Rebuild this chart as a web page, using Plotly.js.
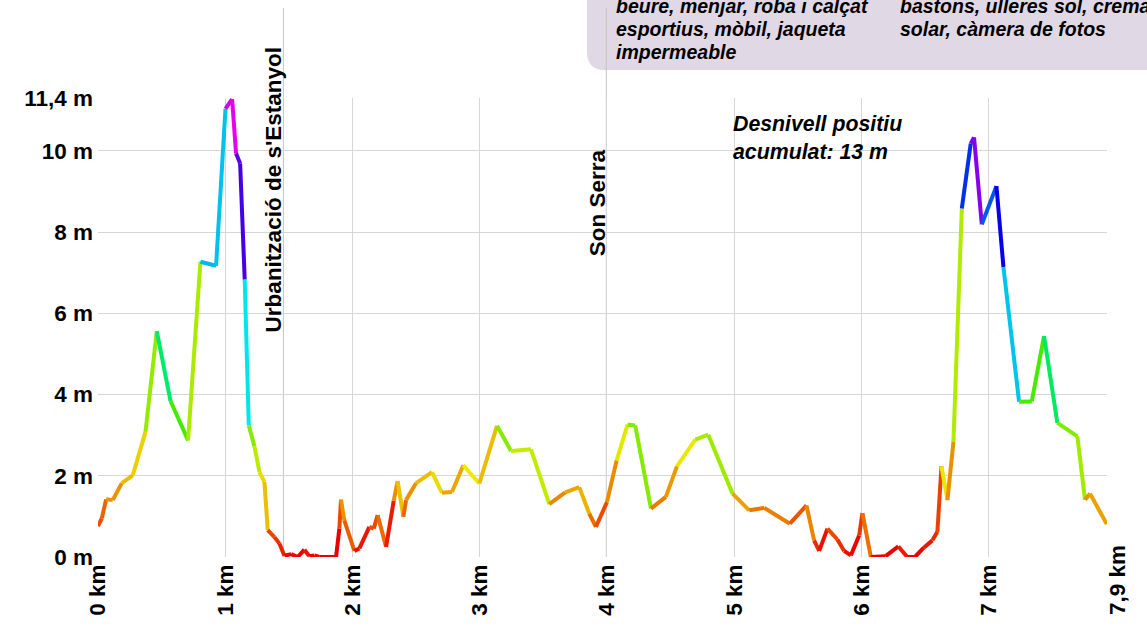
<!DOCTYPE html>
<html><head><meta charset="utf-8">
<script src="https://cdn.plot.ly/plotly-3.0.1.min.js"></script>
<style>html,body{margin:0;padding:0;background:#fff}#chart{width:1147px;height:627px}</style>
</head><body><div id="chart"></div>
<script>
// ---- data ----
const distanceKm = [0.00,0.03,0.064,0.116,0.187,0.273,0.373,0.462,0.570,0.708,0.805,0.928,1.002,1.054,1.085,1.117,1.153,1.185,1.229,1.269,1.308,1.334,1.387,1.426,1.465,1.518,1.57,1.622,1.661,1.70,1.74,1.871,1.897,1.91,1.936,2.015,2.054,2.133,2.167,2.198,2.264,2.324,2.355,2.40,2.421,2.50,2.625,2.704,2.782,2.871,2.997,3.136,3.246,3.403,3.547,3.672,3.782,3.861,3.913,4.00,4.076,4.162,4.222,4.346,4.463,4.55,4.694,4.796,4.987,5.118,5.236,5.438,5.568,5.628,5.668,5.733,5.811,5.864,5.917,5.982,6.008,6.074,6.19,6.29,6.361,6.42,6.49,6.558,6.597,6.629,6.676,6.723,6.789,6.859,6.885,6.946,7.061,7.116,7.239,7.339,7.435,7.54,7.697,7.757,7.797,7.928];
const elevationM = [0.76,0.95,1.42,1.40,1.82,2.01,3.08,5.56,3.84,2.87,7.27,7.17,11.04,11.27,9.94,9.69,6.83,3.24,2.73,2.09,1.85,0.66,0.49,0.33,0.03,0.07,0.0,0.18,0.02,0.04,0.0,0.0,0.70,1.41,0.90,0.15,0.21,0.74,0.70,1.03,0.25,1.38,1.87,0.99,1.40,1.82,2.09,1.58,1.60,2.26,1.81,3.23,2.61,2.65,1.30,1.59,1.72,1.07,0.74,1.35,2.38,3.26,3.24,1.19,1.48,2.23,2.89,3.01,1.56,1.15,1.21,0.82,1.27,0.41,0.15,0.70,0.43,0.15,0.04,0.53,1.08,0.0,0.02,0.26,0.0,0.0,0.23,0.41,0.62,2.23,1.40,2.83,8.58,10.18,10.33,8.19,9.13,7.14,3.82,3.83,5.44,3.30,2.97,1.41,1.56,0.81];

const xTickVals = [0,1,2,3,4,5,6,7,7.93];
const xTickText = ['0 km','1 km','2 km','3 km','4 km','5 km','6 km','7 km','7,9 km'];
const yTickVals = [0,2,4,6,8,10,11.3];
const yTickText = ['0 m','2 m','4 m','6 m','8 m','10 m','11,4 m'];

const placeNames = ["Urbanització de s'Estanyol", 'Son Serra'];
const placeKm = [1.457, 3.995];

const gearLeft = ['beure, menjar, roba i calçat', 'esportius, mòbil, jaqueta', 'impermeable'];
const gearRight = ['bastons, ulleres sol, crema', 'solar, càmera de fotos'];
const summaryText = 'Desnivell positiu<br>acumulat: 13 m';

// ---- layout helpers ----
const W = 1147, H = 627;
const M = {l: 98, r: 40, t: 98, b: 70};
const PW = W - M.l - M.r, PH = H - M.t - M.b;
const X_MAX = 7.93, Y_MAX = 11.3;
const px2x = px => (px - M.l) / PW;
const py2y = py => (H - M.b - py) / PH;
const FONT = 'Liberation Sans, Arial, sans-serif';
const TICK_SIZE = 22.5;

function segColor(v) {
  const h = Math.max(0, Math.min(300, 300 * v / Y_MAX));
  return 'hsl(' + h.toFixed(1) + ',100%,46%)';
}

const traces = [];
for (let i = 0; i < distanceKm.length - 1; i++) {
  traces.push({
    type: 'scatter', mode: 'lines',
    x: [distanceKm[i], distanceKm[i+1]],
    y: [elevationM[i], elevationM[i+1]],
    line: {color: segColor(elevationM[i]), width: 4},
    hoverinfo: 'skip', showlegend: false
  });
}

const r = 18;
const bx0 = px2x(587), bx1 = px2x(1170), by0 = py2y(70), byTop = py2y(-30);
const boxPath = 'M ' + bx0 + ',' + byTop +
  ' L ' + bx0 + ',' + py2y(70 - r) +
  ' Q ' + bx0 + ',' + by0 + ' ' + px2x(587 + r) + ',' + by0 +
  ' L ' + bx1 + ',' + by0 + ' L ' + bx1 + ',' + byTop + ' Z';

const shapes = [
  {type: 'path', xref: 'paper', yref: 'paper', path: boxPath, fillcolor: '#e0d8e4', line: {width: 0}, layer: 'below'}
];
placeKm.forEach(k => {
  shapes.push({type: 'line', xref: 'paper', yref: 'paper', x0: k / X_MAX, x1: k / X_MAX,
    y0: 0, y1: py2y(8), line: {color: '#c4c4c4', width: 1}, layer: 'below'});
});

const annotations = [];
const placeCenters = [190, 203];
const placeShift = [-10, -9];
placeNames.forEach((n, i) => {
  annotations.push({xref: 'paper', yref: 'paper', x: placeKm[i] / X_MAX, xshift: placeShift[i],
    y: py2y(placeCenters[i]), xanchor: 'center', yanchor: 'middle', textangle: -90,
    text: n, showarrow: false, font: {family: FONT, size: 22.5, weight: 'bold', color: '#000'}});
});
annotations.push({xref: 'paper', yref: 'paper', x: px2x(731), y: py2y(137.5), xanchor: 'left', yanchor: 'middle',
  align: 'left', text: summaryText, showarrow: false,
  font: {family: FONT, size: 21.3, weight: 'bold', style: 'italic', color: '#000'}});
const lineCenters = [6, 29, 52];
gearLeft.forEach((t, i) => {
  annotations.push({xref: 'paper', yref: 'paper', x: px2x(614), y: py2y(lineCenters[i]), xanchor: 'left', yanchor: 'middle',
    text: t, showarrow: false, font: {family: FONT, size: 19.5, weight: 'bold', style: 'italic', color: '#000'}});
});
gearRight.forEach((t, i) => {
  annotations.push({xref: 'paper', yref: 'paper', x: px2x(898), y: py2y(lineCenters[i]), xanchor: 'left', yanchor: 'middle',
    text: t, showarrow: false, font: {family: FONT, size: 19.5, weight: 'bold', style: 'italic', color: '#000'}});
});
// last x tick label drawn bottom-aligned like the reference
const lastIdx = xTickVals.length - 1;
annotations.push({xref: 'paper', yref: 'paper', x: px2x(1117), y: py2y(617), xanchor: 'center', yanchor: 'bottom',
  textangle: -90, text: xTickText[lastIdx], showarrow: false,
  font: {family: FONT, size: TICK_SIZE, weight: 'bold', color: '#000'}});
const axisTickText = xTickText.map((t, i) => i === lastIdx ? '' : t);

const layout = {
  width: W, height: H, margin: M,
  paper_bgcolor: '#fff', plot_bgcolor: '#fff',
  showlegend: false,
  xaxis: {range: [0, X_MAX], tickmode: 'array', tickvals: xTickVals, ticktext: axisTickText, tickangle: -90,
    showgrid: true, gridcolor: '#d6d6d6', gridwidth: 1, zeroline: false, showline: false, ticks: '',
    ticklabelstandoff: 2, fixedrange: true,
    tickfont: {family: FONT, size: TICK_SIZE, weight: 'bold', color: '#000'}},
  yaxis: {range: [0, Y_MAX], tickmode: 'array', tickvals: yTickVals, ticktext: yTickText,
    showgrid: true, gridcolor: '#d6d6d6', gridwidth: 1, zeroline: false, showline: false, ticks: '',
    ticklabelstandoff: 4, fixedrange: true,
    tickfont: {family: FONT, size: TICK_SIZE, weight: 'bold', color: '#000'}},
  shapes: shapes, annotations: annotations
};
Plotly.newPlot('chart', traces, layout, {displayModeBar: false, staticPlot: true});
</script></body></html>
